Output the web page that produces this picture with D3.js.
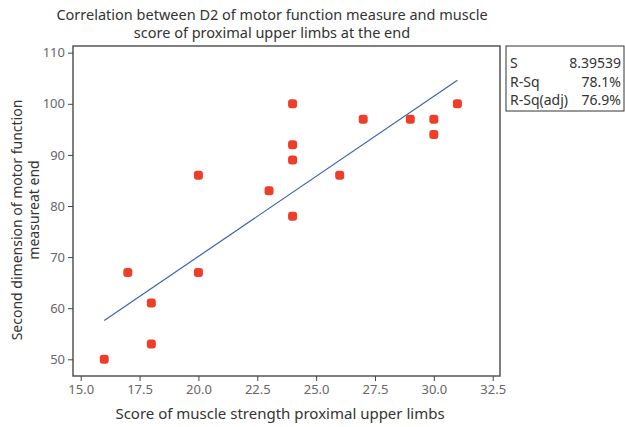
<!DOCTYPE html>
<html lang="en">
<head>
<meta charset="utf-8">
<title>Correlation scatter</title>
<script src="https://d3js.org/d3.v7.min.js"></script>
<style>
  body { margin: 0; background: #fff; }
  text { font-family: "Noto Sans", "DejaVu Sans", sans-serif; }
  .tick text { fill: #666; font-size: 13px; }
  .tick line { stroke: #444; }
</style>
</head>
<body>
<script>
// data
var muscleScore = [16, 17, 18, 18, 20, 20, 23, 24, 24, 24, 24, 26, 27, 29, 30, 30, 31];
var motorD2     = [50, 67, 61, 53, 86, 67, 83, 100, 92, 89, 78, 86, 97, 97, 97, 94, 100];
var fitX = [16, 31];
var fitY = [57.6, 104.6];
var xTicks = [15, 17.5, 20, 22.5, 25, 27.5, 30, 32.5];
var yTicks = [50, 60, 70, 80, 90, 100, 110];
var statNames  = ["S", "R-Sq", "R-Sq(adj)"];
var statValues = ["8.39539", "78.1%", "76.9%"];
var titleLines = ["Correlation between D2 of motor function measure and muscle",
                  "score of proximal upper limbs at the end"];
var yLabelLines = ["Second dimension of motor  function", "measureat end"];

var width = 625, height = 427;
var plotL = 73, plotR = 500, plotT = 46, plotB = 376;

var svg = d3.select("body").append("svg")
    .attr("width", width)
    .attr("height", height);

var x = d3.scaleLinear().domain([15, 32.5]).range([80.7, 492.7]);
var y = d3.scaleLinear().domain([50, 110]).range([359.3, 52.7]);

// frame
svg.append("rect")
    .attr("x", plotL).attr("y", plotT)
    .attr("width", plotR - plotL).attr("height", plotB - plotT)
    .attr("fill", "none").attr("stroke", "#555").attr("stroke-width", 1.5);

// axes
var xAxis = svg.append("g")
    .attr("transform", "translate(0," + plotB + ")")
    .call(d3.axisBottom(x).tickValues(xTicks).tickSize(5).tickPadding(4)
        .tickFormat(d3.format(".1f")));
xAxis.select(".domain").remove();

var yAxis = svg.append("g")
    .attr("transform", "translate(" + plotL + ",0)")
    .call(d3.axisLeft(y).tickValues(yTicks).tickSize(5).tickPadding(3));
yAxis.select(".domain").remove();

// fitted line
svg.append("path")
    .datum(d3.zip(fitX, fitY))
    .attr("fill", "none")
    .attr("stroke", "#3a62b3")
    .attr("stroke-width", 1.2)
    .attr("d", d3.line().x(function(d) { return x(d[0]); }).y(function(d) { return y(d[1]); }));

// points
svg.append("g").selectAll("rect")
    .data(d3.zip(muscleScore, motorD2))
    .enter().append("rect")
    .attr("x", function(d) { return x(d[0]) - 4.5; })
    .attr("y", function(d) { return y(d[1]) - 4.5; })
    .attr("width", 9).attr("height", 9)
    .attr("rx", 3)
    .attr("fill", "#ee3e2a");

// title
svg.append("g").selectAll("text")
    .data(titleLines)
    .enter().append("text")
    .attr("x", 272)
    .attr("y", function(d, i) { return 20 + i * 18; })
    .attr("text-anchor", "middle")
    .attr("font-size", 14.5)
    .attr("fill", "#333")
    .text(function(d) { return d; });

// x label
svg.append("text")
    .attr("x", 280).attr("y", 419)
    .attr("text-anchor", "middle")
    .attr("font-size", 15)
    .attr("fill", "#333")
    .text("Score of muscle strength proximal upper limbs");

// y label
svg.append("g").selectAll("text")
    .data(yLabelLines)
    .enter().append("text")
    .attr("transform", function(d, i) {
        return "translate(" + (22 + i * 17) + "," + (i ? 210 : 220) + ") rotate(-90)";
    })
    .attr("text-anchor", "middle")
    .attr("font-size", 14)
    .attr("fill", "#333")
    .text(function(d) { return d; });

// stats box
svg.append("rect")
    .attr("x", 506).attr("y", 46)
    .attr("width", 118).attr("height", 65)
    .attr("fill", "none").attr("stroke", "#333").attr("stroke-width", 1);

var stats = svg.append("g").selectAll("g")
    .data(d3.zip(statNames, statValues))
    .enter().append("g")
    .attr("transform", function(d, i) { return "translate(0," + (68 + i * 18.5) + ")"; });
stats.append("text")
    .attr("x", 510)
    .attr("font-size", 14).attr("fill", "#333")
    .text(function(d) { return d[0]; });
stats.append("text")
    .attr("x", 621).attr("text-anchor", "end")
    .attr("font-size", 14).attr("fill", "#333")
    .text(function(d) { return d[1]; });
</script>
</body>
</html>
